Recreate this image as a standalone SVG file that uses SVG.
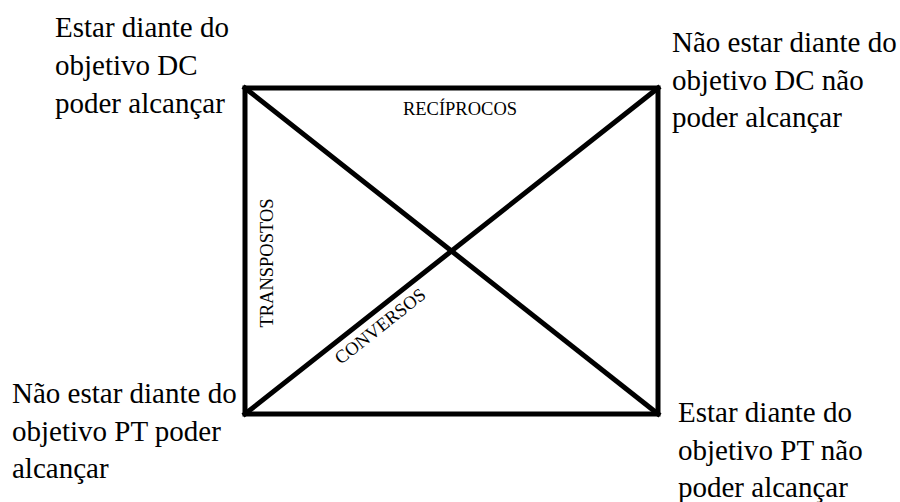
<svg xmlns="http://www.w3.org/2000/svg" width="900" height="502" viewBox="0 0 900 502">
<style>
.ln{stroke:#000;stroke-width:5;fill:none;stroke-linecap:square}
text{font-family:'Liberation Serif', 'DejaVu Serif', serif;fill:#000}
.big{font-size:29px}
.sm{font-size:18.5px}
</style>
<rect width="900" height="502" fill="#fff"/>
<g id="connectors">
<rect class="ln" x="245" y="88" width="413" height="326"/>
<line class="ln" x1="245" y1="88" x2="658" y2="414"/>
<line class="ln" x1="245" y1="414" x2="658" y2="88"/>
</g>
<g id="labels">
<text class="sm" x="460" y="115" text-anchor="middle">RECÍPROCOS</text>
<text class="sm" x="273" y="263" text-anchor="middle" transform="rotate(-90 273 263)">TRANSPOSTOS</text>
<text class="sm" x="384" y="331" text-anchor="middle" transform="rotate(-38.3 384 331)">CONVERSOS</text>
</g>
<g id="node-tl">
<text class="big" x="55" y="37">Estar diante do</text>
<text class="big" x="55" y="75">objetivo DC</text>
<text class="big" x="55" y="113">poder alcançar</text>
</g>
<g id="node-tr">
<text class="big" x="672" y="52">Não estar diante do</text>
<text class="big" x="672" y="90">objetivo DC não</text>
<text class="big" x="672" y="127">poder alcançar</text>
</g>
<g id="node-bl">
<text class="big" x="12" y="403">Não estar diante do</text>
<text class="big" x="12" y="441">objetivo PT poder</text>
<text class="big" x="12" y="478">alcançar</text>
</g>
<g id="node-br">
<text class="big" x="678" y="422">Estar diante do</text>
<text class="big" x="678" y="460">objetivo PT não</text>
<text class="big" x="678" y="497">poder alcançar</text>
</g>
</svg>
